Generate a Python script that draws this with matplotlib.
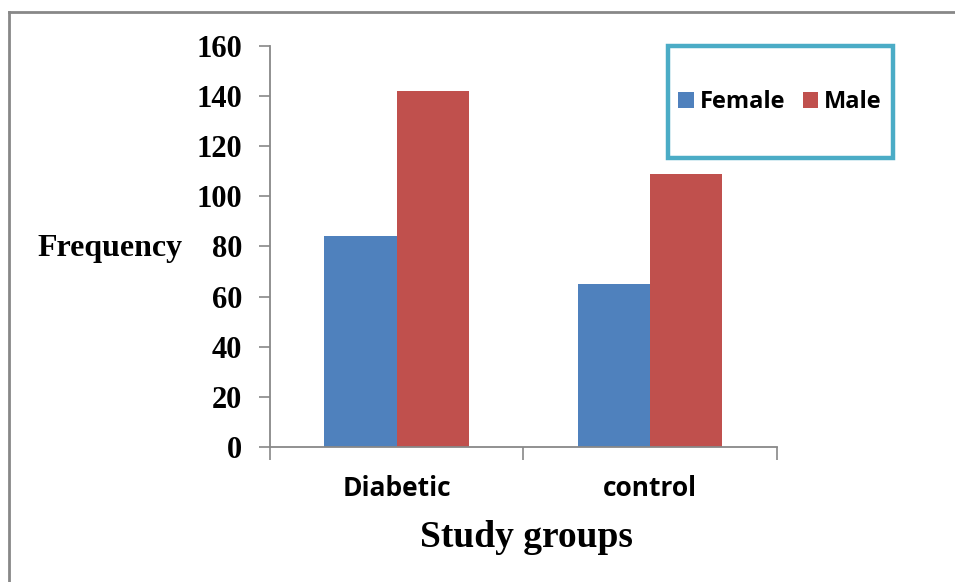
import matplotlib.pyplot as plt
from matplotlib.lines import Line2D
from matplotlib.patches import Rectangle
import numpy as np

groups = ["Diabetic", "control"]
female = [84, 65]
male = [142, 109]
yticks = [0, 20, 40, 60, 80, 100, 120, 140, 160]

fig = plt.figure(figsize=(9.55, 5.82), dpi=100)
ax = fig.add_axes([0.2827, 0.2320, 0.5309, 0.6890])

x = np.arange(len(groups))
w = 0.285
ax.bar(x - w / 2, female, w, color="#4F81BD", label="Female")
ax.bar(x + w / 2, male, w, color="#C0504D", label="Male")

ax.set_xlim(-0.5, 1.5)
ax.set_ylim(0, 160)
ax.set_yticks(yticks)
ax.set_yticklabels([str(v) for v in yticks], fontfamily="Liberation Serif",
                   fontweight="bold", fontsize=22)
ax.set_xticks([-0.5, 0.5, 1.5])
ax.set_xticklabels([])
ax.tick_params(axis="y", length=8, width=1.2, color="#888888", pad=12)
ax.tick_params(axis="x", length=9, width=1.2, color="#888888")
for side in ["top", "right"]:
    ax.spines[side].set_visible(False)
for side in ["left", "bottom"]:
    ax.spines[side].set_color("#888888")
    ax.spines[side].set_linewidth(1.3)

for i, g in enumerate(groups):
    ax.text(i, -16.4, g, ha="center", va="center", fontfamily="Open Sans",
            fontweight="bold", fontsize=19)

fig.text(0.551, 0.076, "Study groups", ha="center", va="center",
         fontfamily="Liberation Serif", fontweight="bold", fontsize=27)
fig.text(0.115, 0.573, "Frequency", ha="center", va="center",
         fontfamily="Liberation Serif", fontweight="bold", fontsize=23)

leg = fig.legend(loc="center", bbox_to_anchor=(0.8168, 0.8247), ncol=2,
                 prop={"family": "Open Sans", "weight": "bold", "size": 17},
                 handlelength=0.65, handleheight=0.65, handletextpad=0.25,
                 columnspacing=0.75, frameon=False, borderaxespad=0)
fig.add_artist(Rectangle((0.6995, 0.7285), 0.2356, 0.1925,
                         transform=fig.transFigure, fill=False,
                         edgecolor="#4BACC6", lw=3.2))

# outer border (top and left only visible)
fig.add_artist(Line2D([0.009, 0.009], [0, 0.98], transform=fig.transFigure,
                      color="#888888", lw=2))
fig.add_artist(Line2D([0.009, 1.0], [0.98, 0.98], transform=fig.transFigure,
                      color="#888888", lw=2))

fig.savefig("out.png", dpi=100)
